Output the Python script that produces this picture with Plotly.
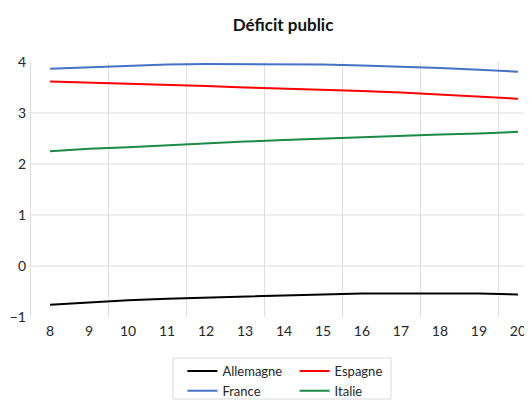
import plotly.graph_objects as go

years = [8, 9, 10, 11, 12, 13, 14, 15, 16, 17, 18, 19, 20]
allemagne = [-0.76, -0.71, -0.67, -0.64, -0.62, -0.59, -0.58, -0.56, -0.54, -0.54, -0.54, -0.54, -0.56]
espagne = [3.62, 3.60, 3.58, 3.56, 3.53, 3.50, 3.48, 3.46, 3.43, 3.40, 3.36, 3.32, 3.28]
france = [3.87, 3.90, 3.93, 3.95, 3.96, 3.96, 3.96, 3.95, 3.93, 3.91, 3.88, 3.85, 3.81]
italie = [2.25, 2.30, 2.33, 2.37, 2.41, 2.44, 2.47, 2.50, 2.53, 2.55, 2.58, 2.60, 2.63]

series = [
    ("Allemagne", allemagne, "#000000", "legend"),
    ("Espagne", espagne, "#ff0000", "legend2"),
    ("France", france, "#4472c4", "legend"),
    ("Italie", italie, "#1a8a45", "legend2"),
]

fig = go.Figure()
for name, vals, col, lg in series:
    fig.add_trace(go.Scatter(x=years, y=vals, name=name, mode="lines",
                             line=dict(color=col, width=2), legend=lg))

grid = "#dedede"
for v in [0, 1, 2, 3]:
    fig.add_hline(y=v, line_color=grid, line_width=1, layer="below")

# legend frame
fig.add_shape(type="rect", xref="paper", yref="paper",
              x0=0.2863, x1=0.7197, y0=-0.3216, y1=-0.1608,
              line=dict(color="#d9d9d9", width=1), fillcolor="rgba(0,0,0,0)")

font = "Lato, 'Open Sans', sans-serif"
leg_common = dict(orientation="v", yanchor="top", y=-0.153, xanchor="left",
                  borderwidth=0, bgcolor="rgba(0,0,0,0)", font=dict(size=13),
                  tracegroupgap=0, itemwidth=30)
fig.update_layout(
    width=524, height=392,
    margin=dict(l=21, r=0, t=54, b=83, autoexpand=False),
    paper_bgcolor="white", plot_bgcolor="white",
    font=dict(family=font, color="#262626"),
    title=dict(text="<b>Déficit public</b>", x=0.525, xanchor="center", y=0.957, yanchor="middle",
               font=dict(size=17, color="#111111")),
    xaxis=dict(range=[7.46, 20.36], tickmode="linear", tick0=8, dtick=1, showgrid=False,
               zeroline=False, showline=False, ticks="", tickfont=dict(size=14), automargin=False,
               ticklabelstandoff=4,
               minor=dict(tick0=9.5, dtick=2, showgrid=True, gridcolor=grid, gridwidth=1, ticks="")),
    yaxis=dict(range=[-1, 4], tickvals=[-1, 0, 1, 2, 3, 4], showgrid=False, zeroline=False,
               showline=False, ticks="", tickfont=dict(size=14), ticklabelstandoff=2, automargin=False),
    legend=dict(x=0.305, **leg_common),
    legend2=dict(x=0.528, **leg_common),
    showlegend=True,
)

fig.write_html("out.html")
